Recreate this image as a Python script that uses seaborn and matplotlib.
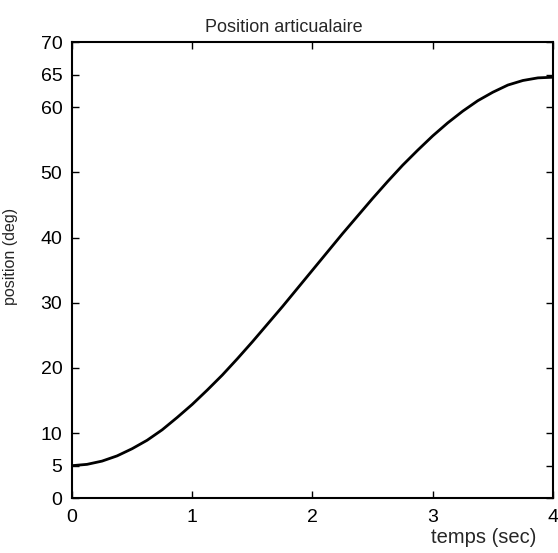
#!/usr/bin/env python3.12
# coding=utf-8

from matplotlib import pyplot as plt
import pandas as pd
import seaborn as sns

# temps (sec) et position (deg)
temps = [0.0, 0.125, 0.25, 0.375, 0.5, 0.625, 0.75, 0.875, 1.0,
         1.125, 1.25, 1.375, 1.5, 1.625, 1.75, 1.875, 2.0,
         2.125, 2.25, 2.375, 2.5, 2.625, 2.75, 2.875, 3.0,
         3.125, 3.25, 3.375, 3.5, 3.625, 3.75, 3.875, 4.0]
position = [5.0, 5.2, 5.7, 6.5, 7.6, 8.9, 10.5, 12.4, 14.4,
            16.6, 18.9, 21.4, 24.0, 26.7, 29.4, 32.2, 35.0,
            37.8, 40.6, 43.3, 46.0, 48.6, 51.1, 53.4, 55.6,
            57.6, 59.4, 61.0, 62.3, 63.4, 64.1, 64.5, 64.6]

xticks = [0, 1, 2, 3, 4]
yticks = [0, 5, 10, 20, 30, 40, 50, 60, 65, 70]

df = pd.DataFrame({'temps': temps, 'position': position})

sns.set_theme(style="ticks")
plt.rcParams['font.family'] = ['Liberation Sans', 'DejaVu Sans']

fig = plt.figure(figsize=(5.58, 5.53), dpi=100)
ax = fig.add_axes([0.129, 0.099, 0.862, 0.825])

sns.lineplot(data=df, x='temps', y='position', ax=ax, color='black', linewidth=2.0)

ax.set_xlim(0, 4)
ax.set_ylim(0, 70)
ax.set_xticks(xticks)
ax.set_yticks(yticks)
ax.tick_params(direction='in', length=5, width=1, top=True, right=True,
               labelsize=14, colors='black')
ax.tick_params(axis='x', pad=8)
ax.tick_params(axis='y', pad=7)
for s in ax.spines.values():
    s.set_color('black')
    s.set_linewidth(1.5)

ax.set_title('Position articualaire', fontsize=13, x=0.44, pad=7)
ax.set_xlabel('temps (sec)', fontsize=14.5)
ax.set_ylabel('position (deg)', fontsize=11.5)
ax.xaxis.set_label_coords(0.855, -0.066)
ax.yaxis.set_label_coords(-0.112, 0.53)

fig.savefig('out.png', dpi=100)
